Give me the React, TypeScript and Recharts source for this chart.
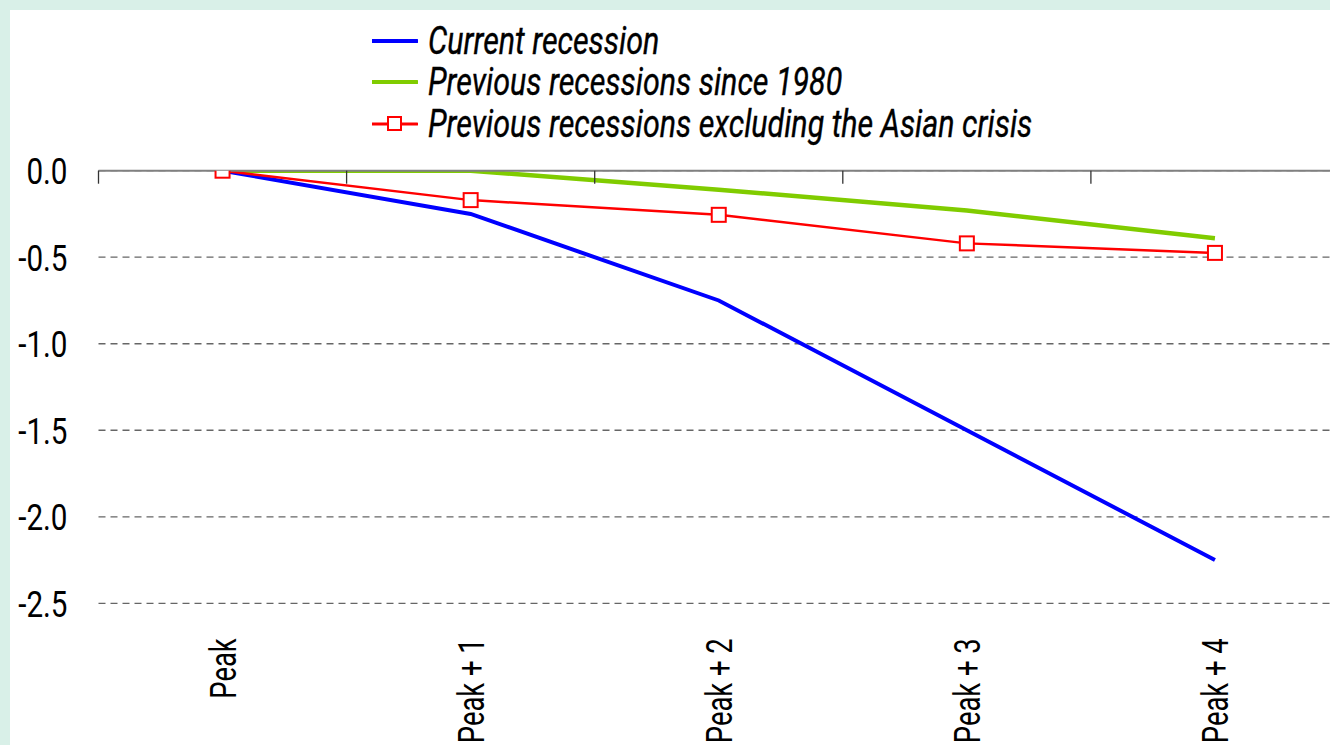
import { LineChart, Line, CartesianGrid, XAxis, YAxis } from "recharts";

const categories = ["Peak", "Peak + 1", "Peak + 2", "Peak + 3", "Peak + 4"];
const currentRecession = [0, -0.25, -0.75, -1.5, -2.25];
const previousSince1980 = [0, 0, -0.11, -0.23, -0.39];
const previousExAsian = [0, -0.17, -0.255, -0.42, -0.475];
const yTicks = [0, -0.5, -1, -1.5, -2, -2.5];
const edgeTicks = [0, 1, 2, 3, 4, 5];

const legendItems = [
  { label: "Current recession", color: "#0000ff", marker: false },
  { label: "Previous recessions since 1980", color: "#80cc00", marker: false },
  { label: "Previous recessions excluding the Asian crisis", color: "#ff0000", marker: true },
];

const data = categories.map((name, i) => ({
  name,
  current: currentRecession[i],
  since1980: previousSince1980[i],
  exAsian: previousExAsian[i],
}));

const FONT = "Roboto, 'Noto Sans', sans-serif";

const YTick = ({ x, y, payload }: any) => (
  <g transform={`translate(${x},${y})`}>
    <text transform="scale(0.8,1)" textAnchor="end" dy="0.36em" fontSize={37} fontFamily={FONT} fill="#000">
      {Number(payload.value).toFixed(1)}
    </text>
  </g>
);

const XTick = ({ x, y, payload }: any) => (
  <g transform={`translate(${x},${y})`}>
    <text transform="rotate(-90) scale(0.74,1)" textAnchor="end" dy="0.36em" fontSize={37} fontFamily={FONT} fill="#000">
      {payload.value}
    </text>
  </g>
);

const SquareDot = ({ cx, cy }: any) => (
  <rect x={cx - 7} y={cy - 7} width={14} height={14} fill="#fff" stroke="#ff0000" strokeWidth={2} />
);

const Legend = () => (
  <div style={{ position: "absolute", left: 372, top: 20, fontFamily: FONT }}>
    {legendItems.map((item) => (
      <div key={item.label} style={{ position: "relative", height: 41.5, display: "flex", alignItems: "center" }}>
        <svg width={46} height={20} style={{ flex: "none" }}>
          <line x1={0} x2={45} y1={10} y2={10} stroke={item.color} strokeWidth={item.marker ? 3 : 4} strokeLinecap="round" />
          {item.marker && <rect x={16} y={3} width={13} height={13} fill="#fff" stroke={item.color} strokeWidth={2} />}
        </svg>
        <span
          style={{
            marginLeft: 10,
            fontSize: 38,
            fontStyle: "italic",
            whiteSpace: "nowrap",
            display: "inline-block",
            transform: "scaleX(0.8)",
            transformOrigin: "left center",
            lineHeight: 1,
            WebkitTextStroke: "0.4px #000",
          }}
        >
          {item.label}
        </span>
      </div>
    ))}
  </div>
);

export default function App() {
  return (
    <div style={{ position: "fixed", left: 0, top: 0, width: 1330, height: 745, overflow: "hidden", background: "#d9f0e8" }}>
      <div style={{ position: "absolute", left: 10, top: 10, right: 0, bottom: 0, background: "#fff" }} />
      <div style={{ position: "absolute", left: 0, top: 0 }}>
        <LineChart width={1339} height={745} data={data} margin={{ top: 170.7, right: 0, bottom: 0, left: 0 }}>
          <CartesianGrid vertical={false} stroke="#666" strokeDasharray="7 5" strokeWidth={1.3} />
          <XAxis
            dataKey="name"
            scale="band"
            height={141.7}
            axisLine={false}
            tickLine={false}
            tickSize={0}
            tickMargin={35}
            interval={0}
            tick={<XTick />}
          />
          <XAxis
            xAxisId="edges"
            dataKey="edge"
            type="number"
            orientation="top"
            mirror
            domain={[0, 5]}
            allowDataOverflow
            ticks={edgeTicks}
            interval={0}
            tickFormatter={() => ""}
            axisLine={{ stroke: "#808080", strokeWidth: 2 }}
            tickLine={{ stroke: "#333", strokeWidth: 1.3 }}
            tickSize={13}
          />
          <YAxis
            width={98.5}
            domain={[-2.5, 0]}
            ticks={yTicks}
            allowDataOverflow
            axisLine={false}
            tickLine={false}
            tickSize={0}
            tickMargin={31}
            tick={<YTick />}
          />
          <Line dataKey="current" stroke="#0000ff" strokeWidth={4} dot={false} isAnimationActive={false} />
          <Line dataKey="since1980" stroke="#80cc00" strokeWidth={4.5} dot={false} isAnimationActive={false} />
          <Line dataKey="exAsian" stroke="#ff0000" strokeWidth={2.5} dot={<SquareDot />} activeDot={false} isAnimationActive={false} />
        </LineChart>
      </div>
      <Legend />
    </div>
  );
}
